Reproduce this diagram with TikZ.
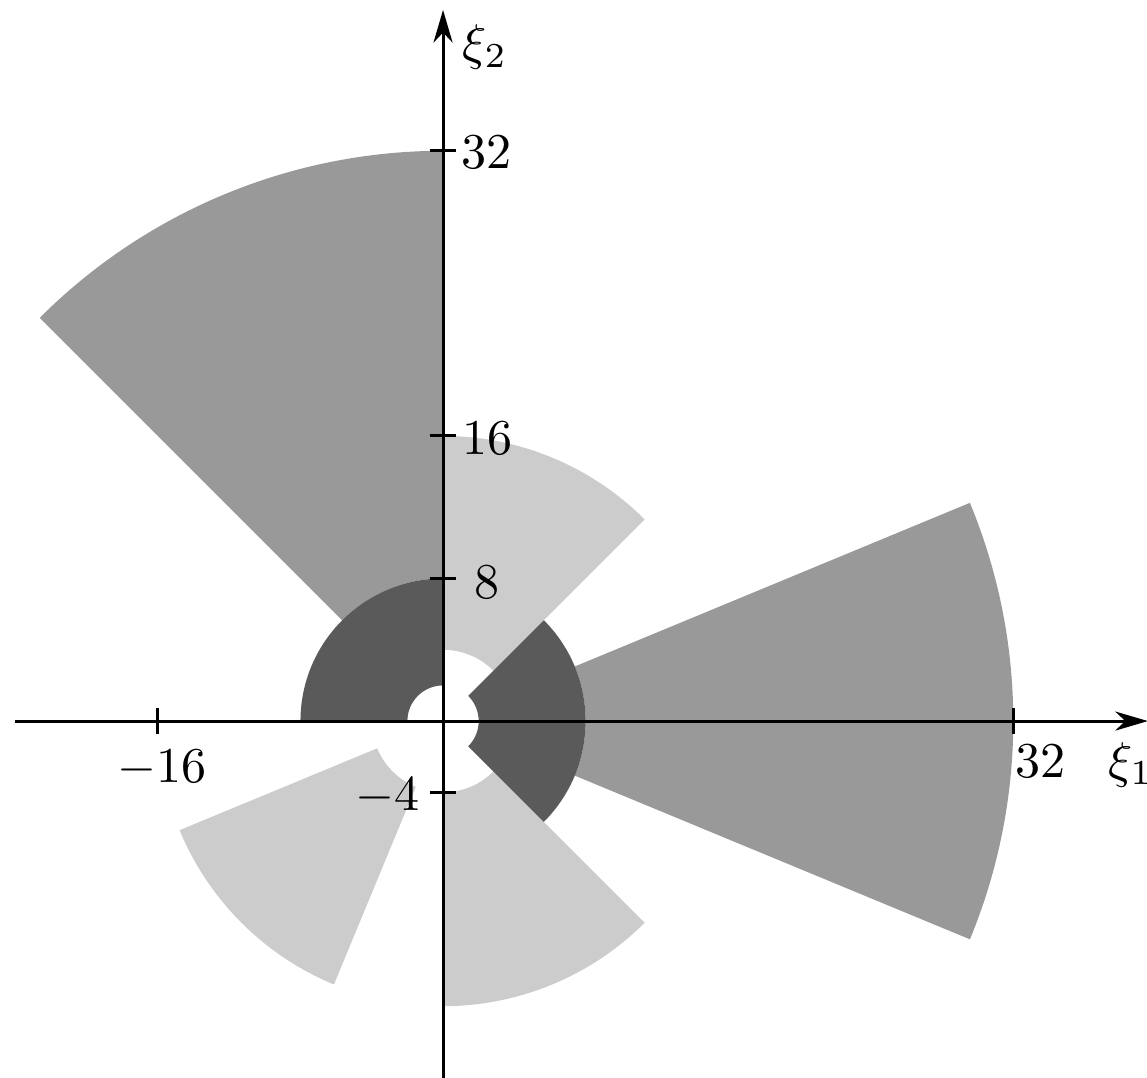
\documentclass[tikz,border=0pt]{standalone}
\usetikzlibrary{arrows.meta}
\definecolor{darkg}{RGB}{90,90,90}
\definecolor{midg}{RGB}{153,153,153}
\definecolor{lightg}{RGB}{204,204,204}
\newcommand\sectorfill[5]{\fill[#1] (#2:#4) arc[start angle=#2,end angle=#3,radius=#4] -- (#3:#5) arc[start angle=#3,end angle=#2,radius=#5] -- cycle;}
\tikzset{
  axis/.style={line width=0.6pt,-{Stealth[length=6.5pt,width=3.8pt,inset=2pt]}},
  tick/.style={line width=0.6pt},
  lab/.style={anchor=base,inner sep=0pt}
}
\begin{document}
\begin{tikzpicture}[scale=0.125]
\useasboundingbox (-24.86,-19.98) rectangle (39.5,40.46);
% light sectors
\sectorfill{lightg}{45}{90}{4}{16}
\sectorfill{lightg}{-90}{-45}{4}{16}
\sectorfill{lightg}{202.5}{247.5}{4}{16}
% medium sectors
\sectorfill{midg}{90}{135}{8}{32}
\sectorfill{midg}{-22.5}{22.5}{8}{32}
% dark sectors
\sectorfill{darkg}{90}{180}{2}{8}
\sectorfill{darkg}{-45}{45}{2}{8}
% axes
\coordinate (xs) at (-24,0);
\coordinate (xe) at (39.55,0);
\coordinate (ys) at (0,-20.5);
\coordinate (ye) at (0,39.9);
\draw[axis] (xs) -- (xe);
\draw[axis] (ys) -- (ye);
% ticks
\foreach \x in {-16,32} \draw[tick] (\x,-0.75) -- (\x,0.75);
\foreach \y in {32,16,8,-4} \draw[tick] (-0.75,\y) -- (0.75,\y);
% labels
\node[lab] (lm16) at (-15.77,-3.42) {$-16$};
\node[lab] (lx32) at (33.5,-3.14) {$32$};
\node[lab] (lxi1) at (38.6,-3.14) {$\xi_1$};
\node[lab] (ly32) at (2.42,30.98) {$32$};
\node[lab] (ly16) at (2.47,14.93) {$16$};
\node[lab] (ly8) at (2.47,6.9) {$8$};
\node[lab] (lym4) at (-3.14,-5.0) {$-4$};
\node[lab] (lxi2) at (2.36,37.1) {$\xi_2$};
\end{tikzpicture}
\end{document}
